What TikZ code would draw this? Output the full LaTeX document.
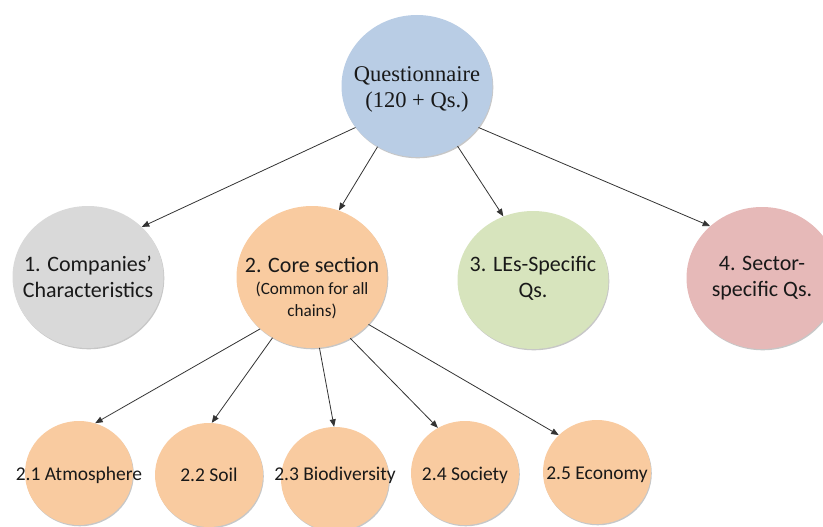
\documentclass[tikz,border=0pt]{standalone}
\usepackage{fontspec}
\setmainfont{Carlito}
\newfontfamily\timesfont{Liberation Serif}
\usetikzlibrary{shapes.geometric,arrows.meta,shadows}

\definecolor{qblue}{HTML}{B9CDE5}
\definecolor{cgray}{HTML}{D9D9D9}
\definecolor{corange}{HTML}{F9CBA0}
\definecolor{lgreen}{HTML}{D7E4BD}
\definecolor{spink}{HTML}{E6B9B8}

\tikzset{
	bubble/.style={shape=ellipse, inner sep=0pt, minimum width=151pt, minimum height=142pt,
		drop shadow={shadow xshift=0.8pt, shadow yshift=-1.3pt, opacity=0.22, fill=black}},
	subbubble/.style={bubble, fill=corange, minimum width=108pt, minimum height=104pt},
	lbl/.style={align=center, text=black!90, font=\fontsize{22}{26}\selectfont},
	sublbl/.style={text=black!90, font=\fontsize{19.5}{23}\selectfont},
	link/.style={draw=black!80, line width=0.8pt, -{Triangle[length=7.5pt,width=6pt]}}
}

\begin{document}
\begin{tikzpicture}[x=1pt, y=-1pt]
	\useasboundingbox (0,0) rectangle (823,527);

	% top level
	\draw (417,86) node[bubble, fill=qblue](quest){};
	\draw (417,89) node[lbl, font=\timesfont\fontsize{22.5}{26}\selectfont](questtxt){Questionnaire\\(120 + Qs.)};

	% sections
	\draw (88,277) node[bubble, fill=cgray](comp){};
	\draw (comp) node[lbl](comptxt){1. Companies’\\Characteristics};
	\draw (312,277) node[bubble, fill=corange](core){};
	\draw (312,288) node[lbl](coretxt){2. Core section\\[-4pt]{\fontsize{17.2}{21}\selectfont (Common for all}\\[-4pt]{\fontsize{17.2}{21}\selectfont chains)}};
	\draw (533,280) node[bubble, fill=lgreen, minimum height=138pt](les){};
	\draw (533,278) node[lbl](lestxt){3. LEs-Specific\\Qs.};
	\draw (762,278) node[bubble, fill=spink](sect){};
	\draw (sect) node[lbl](secttxt){4. Sector-\\specific Qs.};

	% core subsections
	\draw (79,473) node[subbubble](atmo){};
	\draw (79,475) node[sublbl](atmotxt){2.1 Atmosphere};
	\draw (209,475) node[subbubble](soil){};
	\draw (209,475) node[sublbl](soiltxt){2.2 Soil};
	\draw (335,479) node[subbubble](bio){};
	\draw (335,475) node[sublbl](biotxt){2.3 Biodiversity};
	\draw (465,473) node[subbubble](soc){};
	\draw (465,475) node[sublbl](soctxt){2.4 Society};
	\draw (597,472) node[subbubble](eco){};
	\draw (597,475) node[sublbl](ecotxt){2.5 Economy};

	\draw [link](quest.214) -- (comp.43);
	\draw [link](quest.237) -- (core.68);
	\draw [link](quest.304) -- (les.115);
	\draw [link](quest.326) -- (sect.135);

	\draw [link](core.225) -- (atmo.72);
	\draw [link](core.237) -- (soil.87);
	\draw [link](core.276) -- (bio.91);
	\draw [link](core.302) -- (soc.121);
	\draw [link](core.320) -- (eco.136);
\end{tikzpicture}
\end{document}
